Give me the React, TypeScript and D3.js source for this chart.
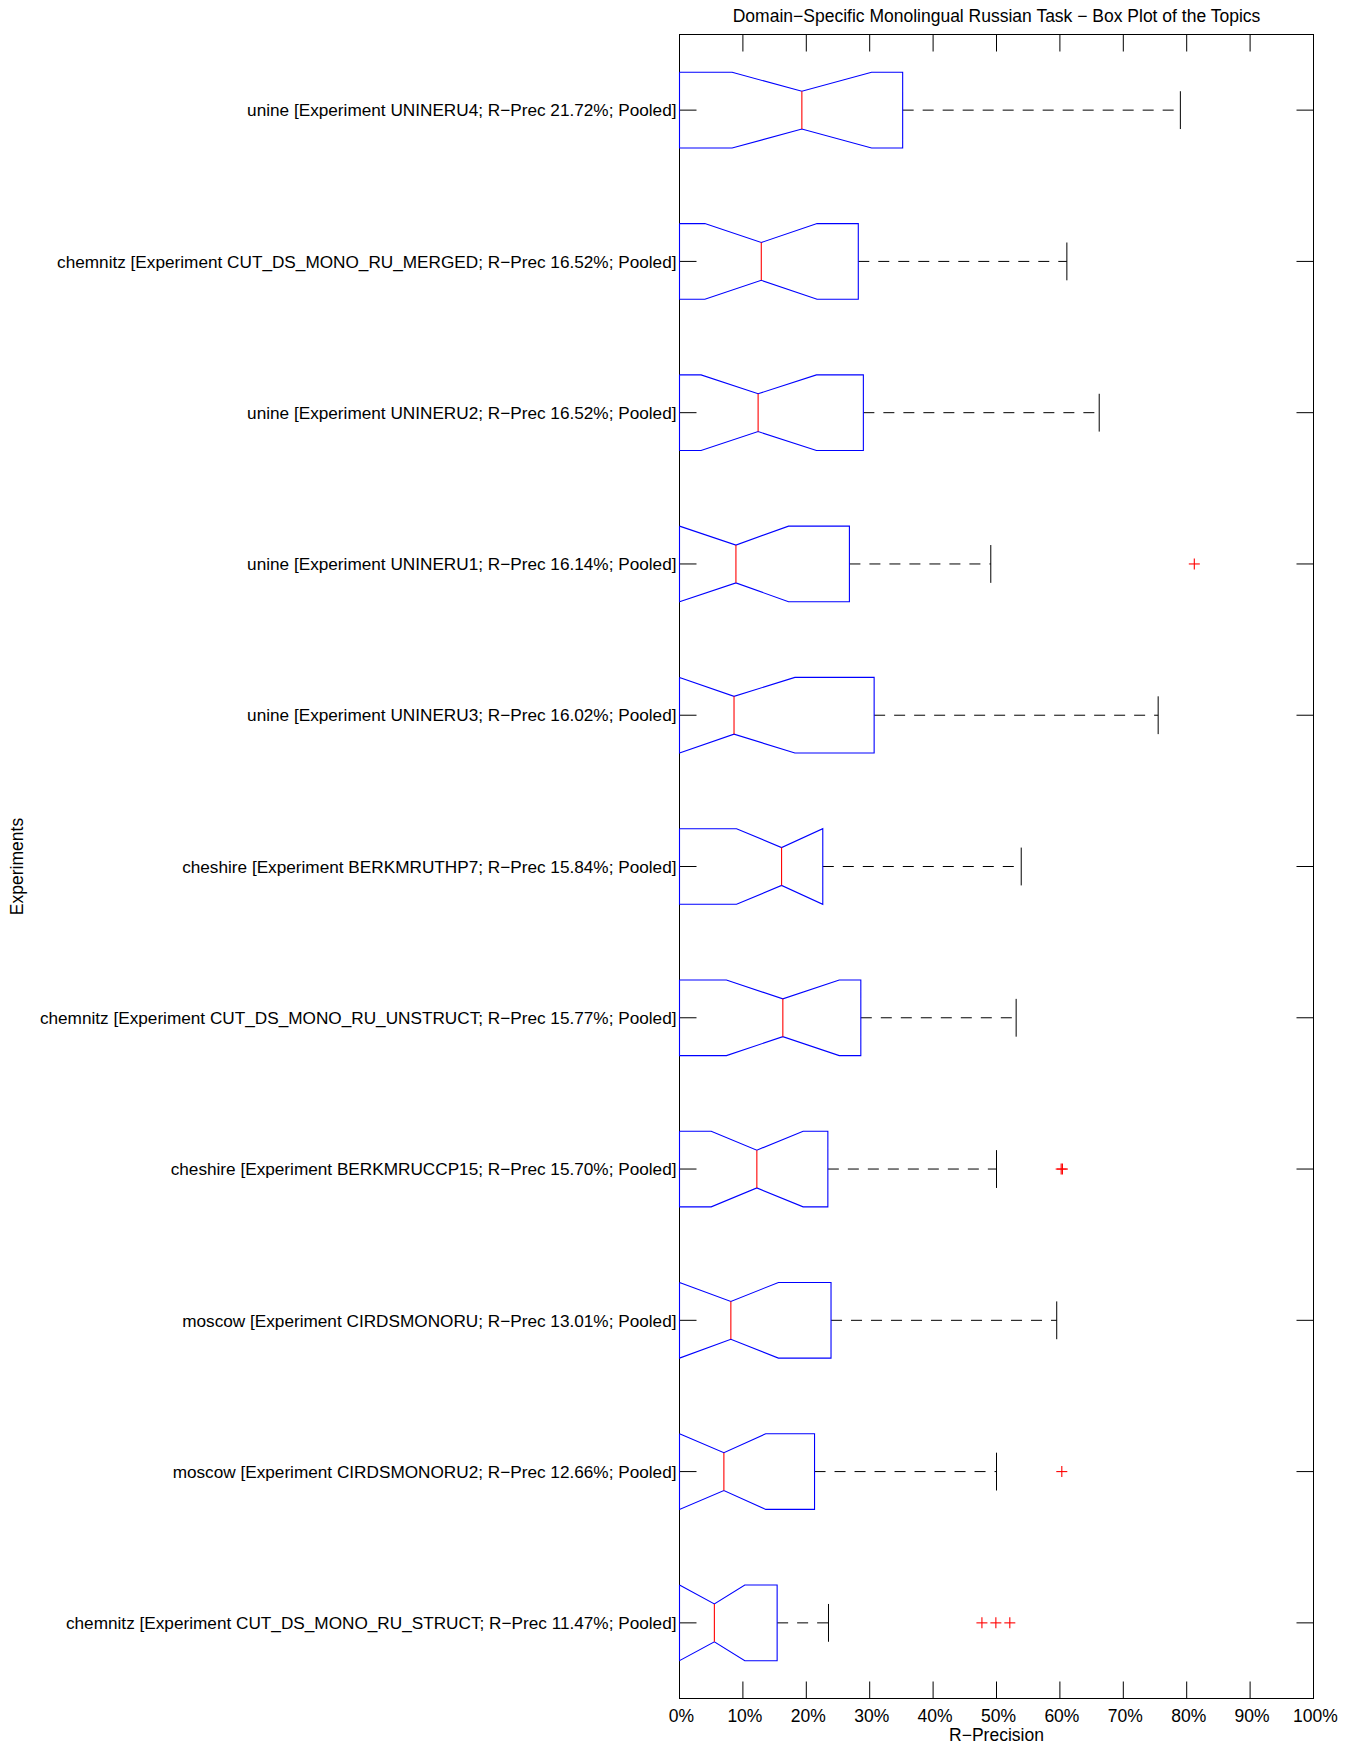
import React from "react";
import * as d3 from "d3";

const labels = [
  "unine [Experiment UNINERU4; R\u2212Prec 21.72%; Pooled]",
  "chemnitz [Experiment CUT_DS_MONO_RU_MERGED; R\u2212Prec 16.52%; Pooled]",
  "unine [Experiment UNINERU2; R\u2212Prec 16.52%; Pooled]",
  "unine [Experiment UNINERU1; R\u2212Prec 16.14%; Pooled]",
  "unine [Experiment UNINERU3; R\u2212Prec 16.02%; Pooled]",
  "cheshire [Experiment BERKMRUTHP7; R\u2212Prec 15.84%; Pooled]",
  "chemnitz [Experiment CUT_DS_MONO_RU_UNSTRUCT; R\u2212Prec 15.77%; Pooled]",
  "cheshire [Experiment BERKMRUCCP15; R\u2212Prec 15.70%; Pooled]",
  "moscow [Experiment CIRDSMONORU; R\u2212Prec 13.01%; Pooled]",
  "moscow [Experiment CIRDSMONORU2; R\u2212Prec 12.66%; Pooled]",
  "chemnitz [Experiment CUT_DS_MONO_RU_STRUCT; R\u2212Prec 11.47%; Pooled]",
];

const q1Values = [0, 0, 0, 0, 0, 0, 0, 0, 0, 0, 0];
const notchLow = [8.3, 4.0, 3.4, 0, 0, 9.0, 7.4, 5.0, 0, 0, 0];
const medians = [19.3, 12.9, 12.4, 8.9, 8.6, 16.1, 16.3, 12.2, 8.1, 7.0, 5.5];
const notchHigh = [30.3, 21.7, 21.6, 17.2, 18.2, 22.6, 25.2, 19.5, 15.6, 13.6, 10.3];
const q3Values = [35.2, 28.2, 29.0, 26.8, 30.7, 22.6, 28.6, 23.4, 23.9, 21.3, 15.4];
const whiskerHigh = [79.0, 61.1, 66.2, 49.1, 75.5, 53.9, 53.1, 50.0, 59.5, 50.0, 23.5];
const outliers: number[][] = [
  [],
  [],
  [],
  [81.2],
  [],
  [],
  [],
  [60.2, 60.4],
  [],
  [60.3],
  [47.7, 49.9, 52.1],
];

const xTicks = [0, 10, 20, 30, 40, 50, 60, 70, 80, 90, 100];

const title = "Domain\u2212Specific Monolingual Russian Task \u2212 Box Plot of the Topics";
const xLabel = "R\u2212Precision";
const yLabel = "Experiments";

export default function App() {
  const W = 1351;
  const H = 1747;
  const left = 679.5;
  const right = 1313.5;
  const top = 34.5;
  const bottom = 1698.5;
  const font = "'Liberation Sans', Arial, Helvetica, sans-serif";
  const fs = 17.5;
  const labelFs = 17.2;
  const tickLen = 17;

  const x = d3.scaleLinear().domain([0, 100]).range([left, right]);
  const y = d3.scaleBand<string>().domain(labels).range([top, bottom]).padding(0);
  const bw = y.bandwidth();
  const cy = (l: string) => (y(l) as number) + bw / 2;
  const h = bw / 4;
  const capH = bw / 8;

  const line = d3.line<[number, number]>();

  return (
    <svg
      width={W}
      height={H}
      style={{ position: "absolute", left: 0, top: 0, background: "#fff" }}
      fontFamily={font}
    >
      <rect x={0} y={0} width={W} height={H} fill="#fff" />
      {/* title */}
      <text x={(left + right) / 2} y={21.5} textAnchor="middle" fontSize={fs} fill="#000">
        {title}
      </text>

      {/* x ticks top & bottom */}
      {xTicks.map((t) => (
        <g key={"xt" + t}>
          <line x1={x(t)} x2={x(t)} y1={top} y2={top + tickLen} stroke="#000" strokeWidth={1} />
          <line x1={x(t)} x2={x(t)} y1={bottom} y2={bottom - tickLen} stroke="#000" strokeWidth={1} />
          <text x={x(t) + 2} y={1721.5} textAnchor="middle" fontSize={fs} fill="#000">
            {t + "%"}
          </text>
        </g>
      ))}
      <text x={(left + right) / 2} y={1740.5} textAnchor="middle" fontSize={fs} fill="#000">
        {xLabel}
      </text>

      {/* y ticks and labels */}
      {labels.map((l) => (
        <g key={"yt" + l}>
          <line x1={left} x2={left + tickLen} y1={cy(l)} y2={cy(l)} stroke="#000" strokeWidth={1} />
          <line x1={right} x2={right - tickLen} y1={cy(l)} y2={cy(l)} stroke="#000" strokeWidth={1} />
          <text x={left - 3} y={cy(l)} dy="0.36em" textAnchor="end" fontSize={labelFs} fill="#000">
            {l}
          </text>
        </g>
      ))}
      <text
        transform={`translate(22.5, ${(top + bottom) / 2}) rotate(-90)`}
        textAnchor="middle"
        fontSize={fs}
        fill="#000"
      >
        {yLabel}
      </text>

      {/* axes box */}
      <rect
        x={left}
        y={top}
        width={right - left}
        height={bottom - top}
        fill="none"
        stroke="#000"
        strokeWidth={1}
      />

      {/* boxes */}
      {labels.map((l, i) => {
        const c = cy(l);
        const q1 = x(q1Values[i]);
        const q3 = x(q3Values[i]);
        const nl = x(notchLow[i]);
        const nh = x(notchHigh[i]);
        const md = x(medians[i]);
        const pts: [number, number][] = [
          [q1, c - h],
          [nl, c - h],
          [md, c - h / 2],
          [nh, c - h],
          [q3, c - h],
          [q3, c + h],
          [nh, c + h],
          [md, c + h / 2],
          [nl, c + h],
          [q1, c + h],
          [q1, c - h],
        ];
        return (
          <g key={"b" + i}>
            <path
              d={line([[q3, c], [x(whiskerHigh[i]), c]]) as string}
              stroke="#000"
              strokeWidth={1}
              strokeDasharray="11,9"
              fill="none"
            />
            <line
              x1={x(whiskerHigh[i])}
              x2={x(whiskerHigh[i])}
              y1={c - capH}
              y2={c + capH}
              stroke="#000"
              strokeWidth={1}
            />
            <path d={line(pts) as string} stroke="#0000ff" strokeWidth={1.1} fill="none" />
            <line x1={md} x2={md} y1={c - h / 2} y2={c + h / 2} stroke="#ff0000" strokeWidth={1.1} />
            {outliers[i].map((o, k) => (
              <g key={"o" + k} stroke="#ff0000" strokeWidth={1.1}>
                <line x1={x(o) - 5.5} x2={x(o) + 5.5} y1={c} y2={c} />
                <line x1={x(o)} x2={x(o)} y1={c - 5.5} y2={c + 5.5} />
              </g>
            ))}
          </g>
        );
      })}
    </svg>
  );
}
